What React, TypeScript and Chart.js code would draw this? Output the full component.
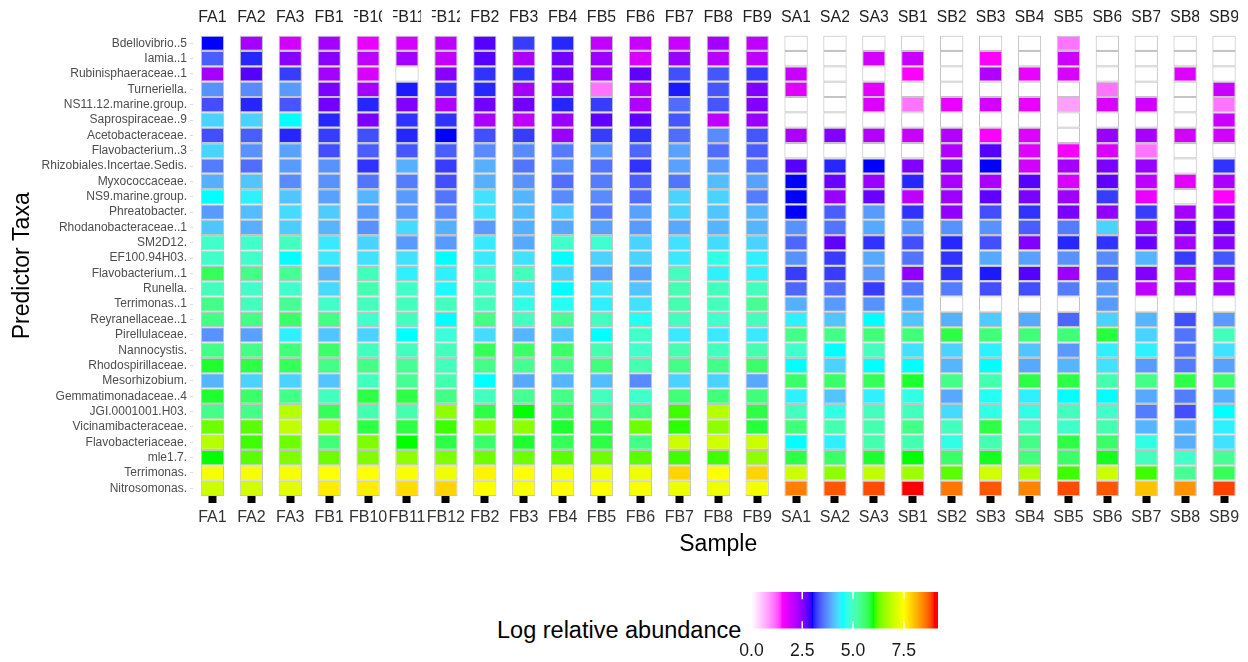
import React, { useEffect, useRef } from "react";
import { Chart, registerables } from "chart.js";

Chart.register(...registerables);

const FONT = '"Liberation Sans", Arial, Helvetica, sans-serif';

const SAMPLES = [
  "FA1", "FA2", "FA3", "FB1", "FB10", "FB11", "FB12", "FB2", "FB3", "FB4", "FB5", "FB6", "FB7", "FB8", "FB9",
  "SA1", "SA2", "SA3", "SB1", "SB2", "SB3", "SB4", "SB5", "SB6", "SB7", "SB8", "SB9",
];

const TAXA = [
  "Bdellovibrio..5", "Iamia..1", "Rubinisphaeraceae..1", "Turneriella.", "NS11.12.marine.group.",
  "Saprospiraceae..9", "Acetobacteraceae.", "Flavobacterium..3", "Rhizobiales.Incertae.Sedis.", "Myxococcaceae.",
  "NS9.marine.group.", "Phreatobacter.", "Rhodanobacteraceae..1", "SM2D12.", "EF100.94H03.",
  "Flavobacterium..1", "Runella.", "Terrimonas..1", "Reyranellaceae..1", "Pirellulaceae.",
  "Nannocystis.", "Rhodospirillaceae.", "Mesorhizobium.", "Gemmatimonadaceae..4", "JGI.0001001.H03.",
  "Vicinamibacteraceae.", "Flavobacteriaceae.", "mle1.7.", "Terrimonas.", "Nitrosomonas.",
];

// log relative abundance per sample, in TAXA order (0 = absent)
const FA1 = [3.0, 3.4, 2.3, 3.75, 3.3, 4.2, 3.3, 4.2, 3.6, 3.95, 4.5, 3.8, 4.1, 4.9, 4.9, 5.7, 5.0, 5.4, 5.4, 3.75, 5.4, 5.9, 4.0, 5.9, 5.4, 6.3, 6.8, 6.0, 7.4, 7.0];
const FA2 = [2.3, 3.1, 2.8, 3.7, 3.1, 4.2, 3.4, 3.75, 3.5, 4.1, 4.4, 4.05, 3.95, 4.9, 4.9, 5.4, 4.9, 5.0, 5.4, 3.85, 5.4, 5.8, 4.2, 5.6, 5.4, 6.2, 6.1, 6.2, 7.4, 7.05];
const FA3 = [1.9, 2.5, 3.2, 3.8, 3.35, 4.5, 3.1, 3.85, 3.8, 3.7, 4.1, 4.25, 4.15, 5.0, 4.5, 5.3, 4.9, 5.3, 5.6, 4.4, 5.5, 5.7, 4.2, 5.4, 6.8, 6.9, 6.3, 6.4, 7.4, 7.2];
const FB1 = [2.3, 2.5, 2.3, 2.6, 2.65, 3.1, 3.2, 3.3, 3.75, 3.75, 3.85, 4.15, 4.0, 4.35, 4.35, 4.0, 4.25, 4.9, 5.4, 4.1, 5.6, 5.4, 4.1, 5.0, 5.7, 6.6, 5.5, 6.3, 7.5, 7.65];
const FB10 = [1.7, 2.1, 1.85, 2.3, 3.1, 2.6, 3.3, 3.4, 3.15, 3.55, 4.0, 3.8, 3.75, 4.2, 4.3, 5.0, 5.1, 5.0, 4.9, 4.2, 5.0, 5.4, 5.0, 5.8, 5.1, 5.8, 6.4, 6.4, 7.5, 7.65];
const FB11 = [1.9, 2.3, 0, 3.05, 2.55, 3.15, 3.1, 3.35, 3.95, 3.6, 3.8, 3.8, 4.25, 3.8, 4.3, 4.4, 4.9, 5.0, 5.0, 4.5, 5.0, 5.3, 5.3, 5.8, 5.1, 5.8, 6.0, 6.5, 7.45, 7.8];
const FB12 = [2.1, 2.05, 2.5, 3.15, 2.2, 3.15, 3.0, 3.4, 3.2, 3.3, 3.55, 3.7, 3.95, 3.8, 4.5, 4.4, 4.45, 5.0, 4.5, 4.8, 5.0, 5.0, 5.1, 5.4, 6.5, 6.1, 5.8, 6.4, 7.35, 7.85];
const FB2 = [2.8, 2.8, 3.15, 3.1, 2.65, 2.25, 3.3, 3.7, 3.95, 3.95, 4.3, 4.3, 3.8, 4.35, 4.35, 4.9, 4.9, 5.0, 5.4, 4.25, 5.7, 5.4, 4.5, 5.0, 5.8, 6.5, 5.6, 6.3, 7.6, 7.5];
const FB3 = [3.2, 2.25, 3.15, 2.3, 2.65, 2.1, 3.2, 3.7, 3.55, 3.75, 4.0, 4.05, 3.95, 3.9, 4.3, 5.0, 4.35, 4.7, 5.0, 4.0, 5.6, 5.3, 3.9, 5.3, 6.0, 6.5, 5.9, 6.3, 7.5, 7.45];
const FB4 = [3.1, 2.65, 2.65, 2.45, 3.1, 2.4, 2.4, 3.6, 3.7, 3.5, 3.7, 4.15, 3.9, 4.9, 4.5, 4.2, 4.5, 4.6, 5.3, 4.1, 5.6, 5.4, 4.0, 5.4, 5.7, 5.9, 5.7, 6.2, 7.4, 7.5];
const FB5 = [2.05, 2.35, 2.3, 1.1, 3.2, 2.75, 3.2, 3.8, 3.55, 3.6, 3.7, 3.6, 3.85, 4.85, 4.2, 3.85, 4.35, 4.4, 5.0, 4.5, 5.1, 5.5, 4.05, 5.0, 5.3, 5.8, 5.8, 6.3, 7.35, 7.5];
const FB6 = [2.0, 1.85, 2.75, 2.2, 2.2, 2.75, 3.15, 3.45, 3.15, 3.4, 3.5, 3.85, 3.8, 4.2, 4.2, 3.85, 4.1, 4.3, 4.6, 4.9, 4.9, 5.1, 3.7, 4.9, 5.4, 6.3, 5.4, 6.2, 7.35, 7.45];
const FB7 = [2.0, 2.4, 3.3, 3.05, 3.5, 3.35, 3.5, 3.85, 3.85, 3.55, 4.2, 4.2, 3.9, 4.3, 4.35, 5.0, 5.1, 5.1, 5.0, 4.35, 5.1, 5.4, 4.2, 5.5, 6.1, 6.05, 7.0, 6.1, 7.85, 7.3];
const FB8 = [2.3, 2.15, 3.35, 3.35, 3.35, 2.1, 3.7, 3.5, 3.8, 4.05, 4.2, 4.1, 4.0, 4.25, 4.7, 4.4, 5.0, 5.0, 4.9, 4.35, 5.0, 5.4, 4.2, 5.5, 6.8, 6.5, 7.05, 6.1, 7.5, 7.35];
const FB9 = [2.1, 2.1, 3.2, 2.55, 2.55, 2.4, 3.35, 3.4, 3.55, 3.85, 3.6, 4.0, 4.0, 4.2, 4.4, 4.4, 5.0, 5.3, 5.0, 4.35, 5.1, 5.6, 3.9, 5.5, 5.8, 5.85, 7.0, 6.5, 7.85, 7.4];
const SA1 = [0, 0, 2.0, 1.8, 0, 0, 2.25, 0, 2.8, 3.0, 3.0, 3.0, 3.75, 3.45, 3.75, 3.2, 3.45, 3.95, 4.4, 5.4, 4.9, 4.5, 5.6, 4.4, 5.0, 5.5, 4.5, 5.8, 7.0, 8.5];
const SA2 = [0, 0, 0, 0, 0, 0, 2.55, 0, 3.1, 2.7, 2.4, 3.4, 3.55, 2.75, 3.2, 3.2, 3.5, 3.8, 4.1, 5.4, 4.5, 4.2, 5.6, 4.1, 4.7, 5.1, 4.4, 5.6, 6.5, 8.75];
const SA3 = [0, 1.9, 0, 1.75, 1.85, 0, 2.2, 0, 3.0, 2.4, 2.7, 3.8, 3.9, 3.15, 3.9, 3.8, 3.2, 3.75, 4.5, 5.5, 5.0, 4.5, 5.7, 4.4, 5.0, 5.1, 5.1, 5.9, 6.9, 8.8];
const SB1 = [0, 2.0, 1.5, 0, 1.1, 0, 2.0, 0, 2.55, 3.1, 2.1, 3.15, 3.8, 3.3, 3.55, 2.45, 3.55, 3.9, 4.1, 5.5, 4.3, 4.5, 5.9, 4.7, 5.0, 5.4, 5.1, 6.0, 6.6, 9.0];
const SB2 = [0, 0, 0, 0, 1.7, 0, 2.2, 2.2, 2.55, 2.25, 2.35, 2.45, 3.75, 3.1, 3.15, 3.15, 3.6, 0, 3.95, 5.8, 4.2, 4.0, 5.4, 3.9, 4.25, 5.0, 4.7, 5.6, 6.2, 8.55];
const SB3 = [0, 1.5, 2.2, 0, 1.9, 0, 1.5, 2.8, 3.0, 2.25, 2.75, 3.3, 3.75, 3.3, 3.9, 3.05, 3.3, 0, 4.15, 5.5, 4.4, 4.5, 5.1, 4.6, 4.7, 5.8, 5.1, 5.95, 7.05, 8.75];
const SB4 = [0, 0, 1.7, 0, 1.7, 0, 1.8, 1.8, 1.9, 2.8, 2.6, 3.15, 3.4, 2.55, 3.85, 2.8, 3.3, 0, 3.9, 5.5, 4.1, 3.9, 5.8, 4.4, 4.7, 5.0, 5.4, 5.5, 6.8, 8.45];
const SB5 = [1.1, 1.95, 1.85, 0, 0.8, 0, 0, 1.6, 2.3, 1.85, 2.35, 2.6, 3.6, 3.1, 3.75, 2.35, 3.6, 0, 3.45, 5.5, 3.8, 4.0, 5.8, 4.5, 5.0, 4.9, 5.8, 5.6, 6.1, 8.8];
const SB6 = [0, 0, 0, 1.1, 1.85, 0, 2.4, 1.85, 2.6, 2.75, 3.2, 2.45, 4.2, 3.15, 3.7, 3.35, 3.8, 3.8, 4.2, 5.85, 4.4, 4.3, 5.1, 4.5, 4.9, 5.1, 5.6, 5.95, 7.0, 8.75];
const SB7 = [0, 0, 0, 0, 1.95, 0, 2.3, 1.1, 2.4, 2.1, 1.7, 3.2, 2.35, 2.7, 4.0, 2.55, 2.1, 0, 4.0, 4.2, 4.4, 3.8, 5.4, 3.9, 3.6, 4.0, 4.7, 5.0, 6.1, 8.0];
const SB8 = [0, 0, 1.8, 0, 0, 0, 1.9, 0, 0, 1.75, 0, 2.3, 2.65, 2.3, 3.2, 2.1, 2.3, 0, 3.3, 3.55, 3.55, 3.6, 5.8, 3.6, 3.3, 3.95, 3.95, 4.9, 5.3, 8.35];
const SB9 = [0, 0, 0, 2.0, 1.1, 2.0, 1.9, 0, 3.15, 2.25, 1.5, 2.5, 2.7, 2.5, 3.35, 2.25, 2.3, 0, 3.8, 5.0, 4.3, 3.85, 5.6, 3.95, 4.5, 4.4, 4.3, 5.3, 5.7, 8.85];

const SAMPLE_VALUES = [
  FA1, FA2, FA3, FB1, FB10, FB11, FB12, FB2, FB3, FB4, FB5, FB6, FB7, FB8, FB9,
  SA1, SA2, SA3, SB1, SB2, SB3, SB4, SB5, SB6, SB7, SB8, SB9,
];

const LEGEND_TICKS = [0, 2.5, 5.0, 7.5];
const LEGEND_MAX = 9.15;
const STOP_VALUES = [0, 1.5, 3, 4.5, 6, 7.5, 9];
const STOP_COLORS = ["#FFFFFF", "#FF00FF", "#0000FF", "#00FFFF", "#00FF00", "#FFFF00", "#FF0000"];

// ---- Lab colour interpolation (like ggplot's gradientn) ----
const Xn = 0.95047, Yn = 1.0, Zn = 1.08883;
function toLin(c: number) { c /= 255; return c <= 0.04045 ? c / 12.92 : Math.pow((c + 0.055) / 1.055, 2.4); }
function fromLin(c: number) {
  const v = c <= 0.0031308 ? 12.92 * c : 1.055 * Math.pow(Math.max(c, 0), 1 / 2.4) - 0.055;
  return Math.round(Math.max(0, Math.min(1, v)) * 255);
}
function fLab(t: number) { return t > 0.008856 ? Math.cbrt(t) : 7.787 * t + 16 / 116; }
function fInv(t: number) { const t3 = t * t * t; return t3 > 0.008856 ? t3 : (t - 16 / 116) / 7.787; }
function hexToLab(hex: string) {
  const r = toLin(parseInt(hex.slice(1, 3), 16));
  const g = toLin(parseInt(hex.slice(3, 5), 16));
  const b = toLin(parseInt(hex.slice(5, 7), 16));
  const X = 0.4124 * r + 0.3576 * g + 0.1805 * b;
  const Y = 0.2126 * r + 0.7152 * g + 0.0722 * b;
  const Z = 0.0193 * r + 0.1192 * g + 0.9505 * b;
  const fx = fLab(X / Xn), fy = fLab(Y / Yn), fz = fLab(Z / Zn);
  return [116 * fy - 16, 500 * (fx - fy), 200 * (fy - fz)];
}
function labToRgb(L: number, a: number, bb: number) {
  const fy = (L + 16) / 116, fx = fy + a / 500, fz = fy - bb / 200;
  const X = Xn * fInv(fx), Y = Yn * fInv(fy), Z = Zn * fInv(fz);
  const r = 3.2406 * X - 1.5372 * Y - 0.4986 * Z;
  const g = -0.9689 * X + 1.8758 * Y + 0.0415 * Z;
  const b = 0.0557 * X - 0.204 * Y + 1.057 * Z;
  return `rgb(${fromLin(r)},${fromLin(g)},${fromLin(b)})`;
}
const STOP_LAB = STOP_COLORS.map(hexToLab);
function colorFor(v: number) {
  if (v <= 0) return "#FFFFFF";
  const last = STOP_VALUES.length - 1;
  if (v >= STOP_VALUES[last]) return STOP_COLORS[last];
  let i = 0;
  while (v > STOP_VALUES[i + 1]) i++;
  const t = (v - STOP_VALUES[i]) / (STOP_VALUES[i + 1] - STOP_VALUES[i]);
  const A = STOP_LAB[i], B = STOP_LAB[i + 1];
  return labToRgb(A[0] + (B[0] - A[0]) * t, A[1] + (B[1] - A[1]) * t, A[2] + (B[2] - A[2]) * t);
}

const topLabelsPlugin = {
  id: "topLabels",
  afterDraw(chart: any) {
    const xs = chart.scales.x;
    const ctx = chart.ctx;
    ctx.save();
    ctx.font = `16px ${FONT}`;
    ctx.fillStyle = "#222222";
    ctx.textAlign = "center";
    ctx.textBaseline = "middle";
    SAMPLES.forEach((s, i) => {
      const px = xs.getPixelForValue(i);
      ctx.save();
      ctx.beginPath();
      ctx.rect(px - 14, 0, 28, chart.chartArea.top);
      ctx.clip();
      ctx.fillText(s, px, 17.5);
      ctx.restore();
    });
    ctx.restore();
  },
};

const gradientPlugin = {
  id: "gradientBar",
  beforeDatasetsDraw(chart: any) {
    const { ctx, chartArea } = chart;
    const xs = chart.scales.x;
    const { left, right, top, bottom } = chartArea;
    ctx.save();
    for (let px = Math.floor(left); px < Math.ceil(right); px++) {
      const v = xs.getValueForPixel(px + 0.5);
      ctx.fillStyle = colorFor(v);
      ctx.fillRect(px, top, 1, bottom - top);
    }
    const h = (bottom - top) / 5;
    ctx.strokeStyle = "#FFFFFF";
    ctx.lineWidth = 1.5;
    LEGEND_TICKS.forEach((v) => {
      if (v <= 0) return;
      const x = xs.getPixelForValue(v);
      ctx.beginPath();
      ctx.moveTo(x, top);
      ctx.lineTo(x, top + h);
      ctx.moveTo(x, bottom - h);
      ctx.lineTo(x, bottom);
      ctx.stroke();
    });
    ctx.restore();
  },
};

export default function App() {
  const mainRef = useRef<HTMLCanvasElement>(null);
  const legRef = useRef<HTMLCanvasElement>(null);

  useEffect(() => {
    const datasets = TAXA.map((taxon, t) => ({
      label: taxon,
      data: SAMPLES.map(() => 1),
      backgroundColor: SAMPLE_VALUES.map((vals) => colorFor(vals[t])),
      borderColor: "#C4C4C4",
      borderWidth: 1.1,
      borderSkipped: false as any,
      barPercentage: 0.6,
      categoryPercentage: 1,
      stack: "cells",
    }));

    const main = new Chart(mainRef.current as HTMLCanvasElement, {
      type: "bar",
      data: { labels: SAMPLES, datasets },
      plugins: [topLabelsPlugin],
      options: {
        responsive: false,
        animation: false,
        devicePixelRatio: 1,
        layout: { padding: { top: 35.6, right: 4.5, bottom: 0, left: 0 } },
        plugins: { legend: { display: false }, tooltip: { enabled: false } },
        scales: {
          x: {
            type: "category",
            position: "bottom",
            offset: true,
            stacked: true,
            grid: {
              display: true,
              drawOnChartArea: false,
              drawTicks: true,
              tickLength: 7,
              tickWidth: 8,
              tickColor: "#000000",
              offset: false,
            },
            border: { display: false },
            ticks: {
              color: "#333333",
              font: { size: 16, family: FONT },
              padding: 5,
              autoSkip: false,
              maxRotation: 0,
            },
            title: {
              display: true,
              text: "Sample",
              color: "#000000",
              font: { size: 23, family: FONT },
              padding: { top: 0, bottom: 4 },
            },
            afterFit: (s: any) => { s.height = 66; },
          },
          y: {
            type: "linear",
            min: 0,
            max: 30,
            reverse: true,
            stacked: true,
            grid: {
              display: true,
              drawOnChartArea: false,
              drawTicks: true,
              tickLength: 3,
              tickColor: "#DDDDDD",
            },
            border: { display: false },
            afterBuildTicks: (s: any) => {
              s.ticks = TAXA.map((_, i) => ({ value: i + 0.5 }));
            },
            ticks: {
              autoSkip: false,
              color: "#4D4D4D",
              font: { size: 12, family: FONT },
              padding: 3,
              callback: (_v: any, i: number) => TAXA[i],
            },
            title: {
              display: true,
              text: "Predictor Taxa",
              color: "#000000",
              font: { size: 23, family: FONT },
              padding: { top: 9, bottom: 0 },
            },
            afterFit: (s: any) => { s.width = 193; },
          },
        },
      } as any,
    });

    const legend = new Chart(legRef.current as HTMLCanvasElement, {
      type: "scatter",
      data: { datasets: [] },
      plugins: [gradientPlugin],
      options: {
        responsive: false,
        animation: false,
        devicePixelRatio: 1,
        layout: { padding: { top: 12, right: 62.7, bottom: 0, left: 51.5 } },
        plugins: { legend: { display: false }, tooltip: { enabled: false } },
        scales: {
          x: {
            type: "linear",
            min: 0,
            max: LEGEND_MAX,
            grid: { display: false, drawTicks: false },
            border: { display: false },
            afterBuildTicks: (s: any) => {
              s.ticks = LEGEND_TICKS.map((v) => ({ value: v }));
            },
            ticks: {
              color: "#1A1A1A",
              font: { size: 17.6, family: FONT },
              padding: 11.9,
              maxRotation: 0,
              autoSkip: false,
              callback: (v: any) => Number(v).toFixed(1),
            },
            afterFit: (s: any) => { s.height = 33.5; },
          },
          y: { display: false, min: 0, max: 1 },
        },
      } as any,
    });

    return () => {
      main.destroy();
      legend.destroy();
    };
  }, []);

  return (
    <div
      style={{
        position: "fixed",
        left: 0,
        top: 0,
        width: 1248,
        height: 662,
        overflow: "hidden",
        background: "#FFFFFF",
      }}
    >
      <canvas ref={mainRef} width={1248} height={562} style={{ position: "absolute", left: 0, top: 0 }} />
      <div
        style={{
          position: "absolute",
          left: 497,
          top: 616,
          fontFamily: FONT,
          fontSize: 23.5,
          lineHeight: "28px",
          color: "#000000",
          whiteSpace: "nowrap",
        }}
      >
        Log relative abundance
      </div>
      <canvas ref={legRef} width={300} height={82} style={{ position: "absolute", left: 700, top: 580 }} />
    </div>
  );
}
